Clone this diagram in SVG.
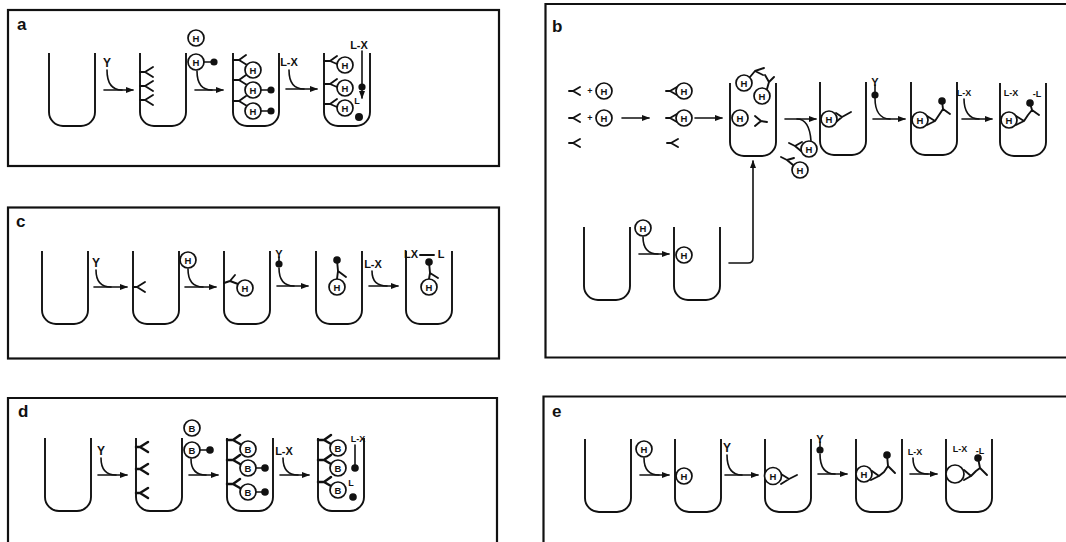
<svg xmlns="http://www.w3.org/2000/svg" xmlns:xlink="http://www.w3.org/1999/xlink" width="1066" height="542" viewBox="0 0 1066 542">
<style>
.frame{fill:none;stroke:#111;stroke-width:2.2}
.tube{fill:none;stroke:#111;stroke-width:1.9}
.ln{fill:none;stroke:#111;stroke-width:1.6;stroke-linecap:round}
.ab{fill:none;stroke:#111;stroke-width:1.9;stroke-linecap:round;stroke-linejoin:round}
.abk{fill:none;stroke:#111;stroke-width:2.5;stroke-linecap:round;stroke-linejoin:round}
.hc{fill:#fff;stroke:#111;stroke-width:1.7}
.dot{fill:#111}
.ht{font-family:"Liberation Sans",Arial,sans-serif;font-weight:bold;font-size:9.5px;text-anchor:middle;fill:#111}
.pl{font-family:"Liberation Sans",Arial,sans-serif;font-weight:bold;font-size:17px;fill:#111}
.lb{font-family:"Liberation Sans",Arial,sans-serif;font-weight:bold;font-size:11px;text-anchor:middle;fill:#111}
.big{font-size:12px}
.sm{font-size:9px}
</style>
<defs>
<marker id="ah" viewBox="0 0 8 6" refX="7" refY="3" markerWidth="8" markerHeight="6" markerUnits="userSpaceOnUse" orient="auto"><path d="M0,0 L8,3 L0,6 z" fill="#111"/></marker>
<path id="tube" class="tube" d="M0,0 V59 A14,14 0 0 0 14,73 H32 A14,14 0 0 0 46,59 V0"/>
</defs>
<rect width="1066" height="542" fill="#fff"/>

<!-- panel frames and letters -->
<g id="frames">
<rect class="frame" x="8" y="10" width="491" height="156"/>
<path class="frame" d="M1066,4 H545.5 V357.5 H1066"/>
<rect class="frame" x="8" y="207.5" width="491" height="151"/>
<path class="frame" d="M8,542 V398 H497 V542"/>
<path class="frame" d="M1066,396.5 H543.5 V542"/>
<text class="pl" x="17" y="30">a</text>
<text class="pl" x="552" y="32">b</text>
<text class="pl" x="16" y="227">c</text>
<text class="pl" x="18" y="417">d</text>
<text class="pl" x="552" y="417">e</text>
</g>

<!-- ===== panel a ===== -->
<g id="a-tube1"><use href="#tube" x="49" y="53"/></g>
<g id="a-reagent1"><text class="lb big" x="107" y="67">Y</text></g>
<g id="a-tube2"><use href="#tube" x="140" y="53"/>
<path class="ab" d="M140,72 h5 l8,-5 M145,72 l8,5 M140,86 h5 l8,-5 M145,86 l8,5 M140,100 h5 l8,-5 M145,100 l8,5"/>
</g>
<g id="a-reagent2">
<circle class="hc" cx="196" cy="38" r="8"/><text class="ht" x="196" y="41.5">H</text>
<circle class="hc" cx="196" cy="62" r="8"/><text class="ht" x="196" y="65.5">H</text>
<path class="ln" d="M204,62 H211"/><circle class="dot" cx="214" cy="62" r="3.6"/>
</g>
<g id="a-tube3"><use href="#tube" x="233" y="53"/>
<path class="ab" d="M233,60 h6 l7,-5 M239,60 l8,5 M233,80 h6 l7,-5 M239,80 l8,5 M233,101 h6 l7,-5 M239,101 l8,5"/>
<circle class="hc" cx="253" cy="70" r="8"/><text class="ht" x="253" y="73.5">H</text>
<circle class="hc" cx="253" cy="90" r="8"/><text class="ht" x="253" y="93.5">H</text>
<circle class="hc" cx="253" cy="111" r="8"/><text class="ht" x="253" y="114.5">H</text>
<path class="ln" d="M261,90 H268 M261,111 H268"/>
<circle class="dot" cx="271" cy="90" r="3.6"/><circle class="dot" cx="271" cy="111" r="3.6"/>
</g>
<g id="a-reagent3"><text class="lb" x="289" y="66">L-X</text></g>
<g id="a-tube4"><use href="#tube" x="324" y="53"/>
<path class="ab" d="M324,61 h6 l7,-5 M330,61 l7,3 M324,84 h6 l7,-5 M330,84 l7,3 M324,104 h6 l7,-5 M330,104 l7,3"/>
<circle class="hc" cx="345" cy="65" r="8"/><text class="ht" x="345" y="68.5">H</text>
<circle class="hc" cx="345" cy="88" r="8"/><text class="ht" x="345" y="91.5">H</text>
<circle class="hc" cx="345" cy="108" r="8"/><text class="ht" x="345" y="111.5">H</text>
<text class="lb" x="359" y="49">L-X</text>
<circle class="dot" cx="362" cy="87" r="3.6"/>
<text class="lb sm" x="357" y="104">L</text>
<circle class="dot" cx="359" cy="117" r="4"/>
</g>

<!-- ===== panel b ===== -->
<g id="b-mix1">
<path class="ab" d="M569,91 h4 l7,-4 M573,91 l7,4 M569,118 h4 l7,-4 M573,118 l7,4 M569,143 h4 l7,-4 M573,143 l7,4"/>
<text class="lb sm" x="590" y="94">+</text><text class="lb sm" x="590" y="121">+</text>
<circle class="hc" cx="604" cy="91" r="8"/><text class="ht" x="604" y="94.5">H</text>
<circle class="hc" cx="604" cy="118" r="8"/><text class="ht" x="604" y="121.5">H</text>
</g>
<g id="b-mix2">
<path class="ab" d="M666,91 h4 l7,-4 M670,91 l7,4 M666,118 h4 l7,-4 M670,118 l7,4 M667,143 h4 l7,-4 M671,143 l7,4"/>
<circle class="hc" cx="684" cy="91" r="8"/><text class="ht" x="684" y="94.5">H</text>
<circle class="hc" cx="684" cy="118" r="8"/><text class="ht" x="684" y="121.5">H</text>
</g>
<g id="b-tube1"><use href="#tube" x="730" y="83"/>
<path class="ab" d="M750,77 L755,71 L764,68 M755,71 L763,75 M767,89 L769,82 L765,75 M769,82 L774,77 M755,116 L761,121 L755,126 M761,121 L767,122"/>
<circle class="hc" cx="744" cy="83" r="8"/><text class="ht" x="744" y="86.5">H</text>
<circle class="hc" cx="762" cy="96" r="8"/><text class="ht" x="762" y="99.5">H</text>
<circle class="hc" cx="740" cy="118" r="8"/><text class="ht" x="740" y="121.5">H</text>
</g>
<g id="b-washout">
<path class="ab" d="M789,143 L795,146 L802,142 M795,146 L801,151 M781,157 L787,160 L794,158 M787,160 L793,165"/>
<circle class="hc" cx="809" cy="149" r="8"/><text class="ht" x="809" y="152.5">H</text>
<circle class="hc" cx="800" cy="170" r="8"/><text class="ht" x="800" y="173.5">H</text>
</g>
<g id="b-tube2"><use href="#tube" x="820" y="82"/>
<path class="ab" d="M836,113 L842,117 L836,122 M842,117 L851,112"/>
<circle class="hc" cx="829" cy="119" r="8"/><text class="ht" x="829" y="122.5">H</text>
</g>
<g id="b-reagent3">
<text class="lb" x="875" y="86">Y</text>
<path class="ln" d="M875,85 V92"/><circle class="dot" cx="875" cy="95" r="3.6"/>
</g>
<g id="b-tube3"><use href="#tube" x="911" y="82"/>
<path class="ab" d="M927,116 L935,121 L927,125 M935,121 L939,115 M942,101 L943,109 L939,115 M943,109 L950,114"/>
<circle class="hc" cx="920" cy="120" r="8"/><text class="ht" x="920" y="123.5">H</text>
<circle class="dot" cx="942" cy="101" r="3.8"/>
</g>
<g id="b-reagent4"><text class="lb sm" x="964" y="96">L-X</text></g>
<g id="b-tube4"><use href="#tube" x="1000" y="83"/>
<text class="lb sm" x="1011" y="96">L-X</text>
<text class="lb sm" x="1037" y="97">-L</text>
<path class="ab" d="M1016,116 L1024,121 L1016,125 M1024,121 L1028,115 M1030,103 L1032,110 L1028,115 M1032,110 L1039,115"/>
<circle class="hc" cx="1009" cy="120" r="8"/><text class="ht" x="1009" y="123.5">H</text>
<circle class="dot" cx="1030" cy="103" r="3.8"/>
</g>
<g id="b-coat1"><use href="#tube" x="584" y="227"/>
<circle class="hc" cx="643" cy="228" r="8"/><text class="ht" x="643" y="231.5">H</text>
</g>
<g id="b-coat2"><use href="#tube" x="674" y="227"/>
<circle class="hc" cx="684" cy="255" r="8"/><text class="ht" x="684" y="258.5">H</text>
</g>

<!-- ===== panel c ===== -->
<g id="c-tube1"><use href="#tube" x="42" y="251"/></g>
<g id="c-reagent1"><text class="lb big" x="96" y="267">Y</text></g>
<g id="c-tube2"><use href="#tube" x="133" y="251"/>
<path class="ab" d="M133,287 h4 l8,-5 M137,287 l8,5"/>
</g>
<g id="c-reagent2"><circle class="hc" cx="188" cy="260" r="8"/><text class="ht" x="188" y="263.5">H</text></g>
<g id="c-tube3"><use href="#tube" x="224" y="251"/>
<path class="ab" d="M224,283 L230,281 L235,275 M230,281 L238,284"/>
<circle class="hc" cx="245" cy="288" r="8"/><text class="ht" x="245" y="291.5">H</text>
</g>
<g id="c-reagent3">
<text class="lb" x="279" y="258">Y</text>
<path class="ln" d="M279,257 V261"/><circle class="dot" cx="279" cy="264" r="3.6"/>
</g>
<g id="c-tube4"><use href="#tube" x="316" y="251"/>
<path class="ab" d="M337,260 L338,271 L346,277 M338,271 L337,279"/>
<circle class="dot" cx="337" cy="260" r="3.8"/>
<circle class="hc" cx="337" cy="287" r="8"/><text class="ht" x="337" y="290.5">H</text>
</g>
<g id="c-reagent4"><text class="lb" x="373" y="268">L-X</text></g>
<g id="c-tube5"><use href="#tube" x="406" y="251"/>
<text class="lb" x="411" y="258">LX</text>
<path class="ab" d="M420,255 H434"/>
<text class="lb" x="441" y="258">L</text>
<path class="ab" d="M429,262 L430,273 L438,278 M430,273 L429,279"/>
<circle class="dot" cx="429" cy="262" r="3.8"/>
<circle class="hc" cx="429" cy="287" r="8"/><text class="ht" x="429" y="290.5">H</text>
</g>

<!-- ===== panel d ===== -->
<g id="d-tube1"><use href="#tube" x="45" y="438"/></g>
<g id="d-reagent1"><text class="lb big" x="101" y="455">Y</text></g>
<g id="d-tube2"><use href="#tube" x="136" y="438"/>
<path class="abk" d="M136,447 h4 l8,-5 M140,447 l8,5 M136,469 h4 l8,-5 M140,469 l8,5 M136,493 h4 l8,-5 M140,493 l8,5"/>
</g>
<g id="d-reagent2">
<circle class="hc" cx="192" cy="428" r="8"/><text class="ht" x="192" y="431.5">B</text>
<circle class="hc" cx="192" cy="450" r="8"/><text class="ht" x="192" y="453.5">B</text>
<path class="ln" d="M200,450 H207"/><circle class="dot" cx="210" cy="450" r="3.8"/>
</g>
<g id="d-tube3"><use href="#tube" x="227" y="438"/>
<path class="abk" d="M227,440 h6 l7,-5 M233,440 l7,4 M227,460 h6 l7,-5 M233,460 l7,4 M227,484 h6 l7,-5 M233,484 l7,4"/>
<circle class="hc" cx="248" cy="449" r="8"/><text class="ht" x="248" y="452.5">B</text>
<circle class="hc" cx="248" cy="468" r="8"/><text class="ht" x="248" y="471.5">B</text>
<circle class="hc" cx="248" cy="492" r="8"/><text class="ht" x="248" y="495.5">B</text>
<path class="ln" d="M256,468 H262 M256,492 H262"/>
<circle class="dot" cx="265" cy="468" r="3.8"/><circle class="dot" cx="265" cy="492" r="3.8"/>
</g>
<g id="d-reagent3"><text class="lb" x="284" y="455">L-X</text></g>
<g id="d-tube4"><use href="#tube" x="318" y="438"/>
<path class="abk" d="M318,440 h6 l7,-5 M324,440 l7,4 M318,460 h6 l7,-5 M324,460 l7,4 M318,482 h6 l7,-5 M324,482 l7,4"/>
<circle class="hc" cx="338" cy="448" r="8"/><text class="ht" x="338" y="451.5">B</text>
<circle class="hc" cx="338" cy="468" r="8"/><text class="ht" x="338" y="471.5">B</text>
<circle class="hc" cx="338" cy="490" r="8"/><text class="ht" x="338" y="493.5">B</text>
<text class="lb sm" x="358" y="442">L-X</text>
<path class="ln" d="M355,445 V466"/>
<circle class="dot" cx="355" cy="468" r="3.8"/>
<text class="lb sm" x="351" y="486">L</text>
<circle class="dot" cx="353" cy="497" r="3.8"/>
</g>

<!-- ===== panel e ===== -->
<g id="e-tube1"><use href="#tube" x="585" y="439"/></g>
<g id="e-reagent1"><circle class="hc" cx="644" cy="449" r="8"/><text class="ht" x="644" y="452.5">H</text></g>
<g id="e-tube2"><use href="#tube" x="675" y="439"/>
<circle class="hc" cx="684" cy="476" r="8"/><text class="ht" x="684" y="479.5">H</text>
</g>
<g id="e-reagent2"><text class="lb big" x="727" y="452">Y</text></g>
<g id="e-tube3"><use href="#tube" x="765" y="439"/>
<path class="ab" d="M781,474 L789,479 L781,484 M789,479 L797,475"/>
<circle class="hc" cx="773" cy="476" r="8.5"/><text class="ht" x="773" y="479.5">H</text>
</g>
<g id="e-reagent3">
<text class="lb" x="820" y="443">Y</text>
<path class="ln" d="M820,442 V447"/><circle class="dot" cx="820" cy="450" r="3.6"/>
</g>
<g id="e-tube4"><use href="#tube" x="856" y="439"/>
<path class="ab" d="M872,471 L879,476 L871,480 M879,476 L884,472 M887,455 L888,466 L884,472 M888,466 L895,473"/>
<circle class="hc" cx="864" cy="474" r="8"/><text class="ht" x="864" y="477.5">H</text>
<circle class="dot" cx="887" cy="455" r="3.8"/>
</g>
<g id="e-reagent4"><text class="lb sm" x="915" y="455">L-X</text></g>
<g id="e-tube5"><use href="#tube" x="946" y="439"/>
<text class="lb sm" x="960" y="452">L-X</text>
<text class="lb sm" x="980" y="454">-L</text>
<path class="ab" d="M964,470 L971,476 L964,480 M971,476 L976,471 M978,458 L980,468 L976,471 M980,468 L987,475"/>
<circle class="hc" cx="955" cy="474" r="9"/>
<circle class="dot" cx="978" cy="458" r="3.8"/>
</g>

<!-- ===== connectors ===== -->
<g id="connectors" class="ln">
<!-- a -->
<path d="M107,70 C107,83 112,90 122,90"/><path d="M104,90 H133" marker-end="url(#ah)"/>
<path d="M197,71 C197,83 202,90 212,90"/><path d="M195,90 H223" marker-end="url(#ah)"/>
<path d="M289,70 C289,82 294,89 304,89"/><path d="M286,89 H317" marker-end="url(#ah)"/>
<path d="M362,51 V98" marker-end="url(#ah)"/>
<!-- b -->
<path d="M622,118 H649" marker-end="url(#ah)"/>
<path d="M695,118 H722" marker-end="url(#ah)"/>
<path d="M785,119 H816" marker-end="url(#ah)"/>
<path d="M811,141 C810,127 806,119 797,119"/>
<path d="M875,98 C875,111 880,119 890,119"/><path d="M873,119 H905" marker-end="url(#ah)"/>
<path d="M964,99 C964,111 969,119 979,119"/><path d="M962,119 H992" marker-end="url(#ah)"/>
<path d="M643,237 C643,248 648,254 658,254"/><path d="M639,254 H669" marker-end="url(#ah)"/>
<path d="M729,263 H748 Q753,263 753,258 V161" marker-end="url(#ah)"/>
<!-- c -->
<path d="M96,270 C96,281 101,287 111,287"/><path d="M94,287 H127" marker-end="url(#ah)"/>
<path d="M188,269 C188,281 193,287 203,287"/><path d="M185,287 H216" marker-end="url(#ah)"/>
<path d="M279,268 C279,280 284,286 294,286"/><path d="M277,286 H308" marker-end="url(#ah)"/>
<path d="M372,271 C372,281 377,286 387,286"/><path d="M369,286 H398" marker-end="url(#ah)"/>
<!-- d -->
<path d="M101,458 C101,469 106,475 116,475"/><path d="M98,475 H127" marker-end="url(#ah)"/>
<path d="M191,459 C191,470 196,475 206,475"/><path d="M189,475 H218" marker-end="url(#ah)"/>
<path d="M283,458 C283,469 288,475 298,475"/><path d="M280,475 H309" marker-end="url(#ah)"/>
<!-- e -->
<path d="M644,458 C644,469 649,475 659,475"/><path d="M640,475 H669" marker-end="url(#ah)"/>
<path d="M727,455 C727,468 732,475 742,475"/><path d="M725,475 H758" marker-end="url(#ah)"/>
<path d="M820,454 C820,467 825,474 835,474"/><path d="M818,474 H847" marker-end="url(#ah)"/>
<path d="M913,458 C913,468 918,474 928,474"/><path d="M910,474 H937" marker-end="url(#ah)"/>
</g>
</svg>
